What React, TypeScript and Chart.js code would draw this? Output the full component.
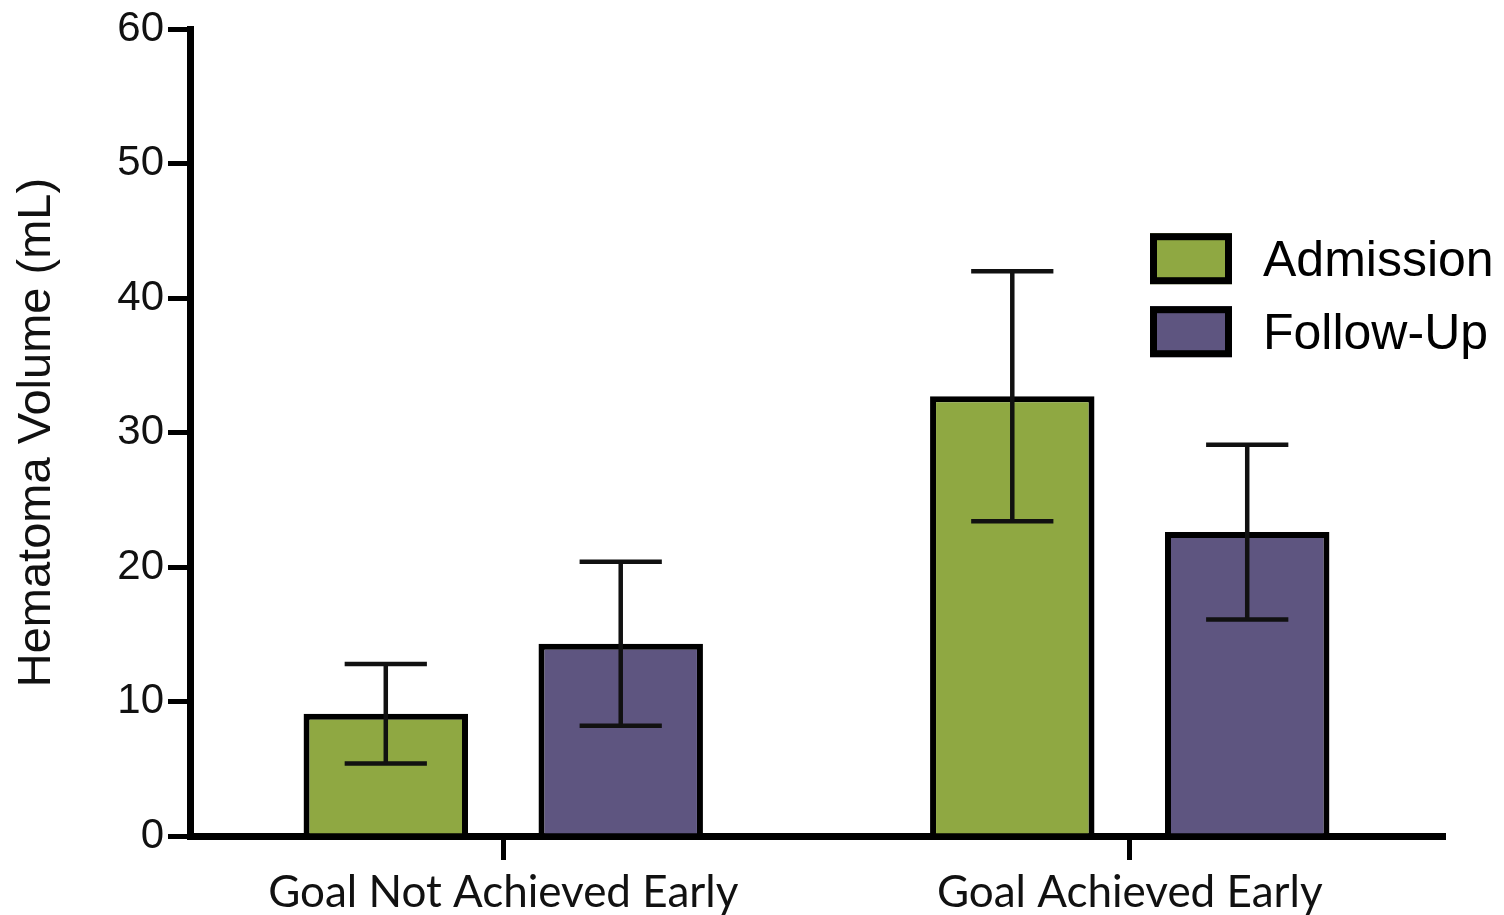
import React, { useEffect, useRef } from "react";
import { Chart, registerables } from "chart.js";

Chart.register(...registerables);

// Groups on the x axis
const categories = ["Goal Not Achieved Early", "Goal Achieved Early"];

// Mean hematoma volume (mL) per group
const admission = [9.1, 32.7];
const followUp = [14.3, 22.6];

// Error bar half-lengths (mL)
const admissionErr = [3.7, 9.3];
const followUpErr = [6.1, 6.5];

// Y axis range and tick step
const yMin = 0;
const yMax = 60;
const yStep = 10;

const seriesNames = ["Admission", "Follow-Up"];
const seriesColors = ["#8FA842", "#5E5580"];

const errorBarPlugin = {
  id: "errorBars",
  afterDatasetsDraw(chart: any) {
    const ctx = chart.ctx;
    const yScale = chart.scales.y;
    chart.data.datasets.forEach((ds: any, di: number) => {
      const meta = chart.getDatasetMeta(di);
      meta.data.forEach((bar: any, i: number) => {
        const v = ds.data[i];
        const e = ds.errors[i];
        const yTop = yScale.getPixelForValue(v + e);
        const yBot = yScale.getPixelForValue(v - e);
        const half = bar.width / 4;
        ctx.save();
        ctx.strokeStyle = "#111";
        ctx.lineWidth = 4.5;
        ctx.lineCap = "butt";
        ctx.beginPath();
        ctx.moveTo(bar.x, yTop);
        ctx.lineTo(bar.x, yBot);
        ctx.moveTo(bar.x - half, yTop);
        ctx.lineTo(bar.x + half, yTop);
        ctx.moveTo(bar.x - half, yBot);
        ctx.lineTo(bar.x + half, yBot);
        ctx.stroke();
        ctx.restore();
      });
    });
  },
};

const boxLegendPlugin = {
  id: "boxLegend",
  afterDraw(chart: any) {
    const ctx = chart.ctx;
    const area = chart.chartArea;
    const boxX = area.right - 293;
    const boxTop = area.top + 204;
    const boxW = 82;
    const boxH = 51;
    const rowGap = 73;
    const bw = 7;
    ctx.save();
    seriesNames.forEach((name, i) => {
      const y = boxTop + i * rowGap;
      ctx.fillStyle = seriesColors[i];
      ctx.fillRect(boxX, y, boxW, boxH);
      ctx.strokeStyle = "#000";
      ctx.lineWidth = bw;
      ctx.strokeRect(boxX + bw / 2, y + bw / 2, boxW - bw, boxH - bw);
      ctx.fillStyle = "#000";
      ctx.font = "50px 'Liberation Sans', Arial, sans-serif";
      ctx.textBaseline = "alphabetic";
      ctx.textAlign = "left";
      ctx.fillText(name, boxX + 113, y + 43);
    });
    ctx.restore();
  },
};

export default function App() {
  const canvasRef = useRef<HTMLCanvasElement | null>(null);

  useEffect(() => {
    if (!canvasRef.current) return;
    const chart = new Chart(canvasRef.current, {
      type: "bar",
      data: {
        labels: categories,
        datasets: [
          {
            label: seriesNames[0],
            data: admission,
            errors: admissionErr,
            backgroundColor: seriesColors[0],
            borderColor: "#000",
            borderWidth: 6,
            categoryPercentage: 0.75,
            barPercentage: 0.7,
          } as any,
          {
            label: seriesNames[1],
            data: followUp,
            errors: followUpErr,
            backgroundColor: seriesColors[1],
            borderColor: "#000",
            borderWidth: 6,
            categoryPercentage: 0.75,
            barPercentage: 0.7,
          } as any,
        ],
      },
      options: {
        responsive: false,
        animation: false,
        devicePixelRatio: 1,
        layout: { padding: { left: 0, top: 28, right: 61, bottom: 0 } },
        plugins: {
          legend: { display: false },
          tooltip: { enabled: false },
        },
        scales: {
          x: {
            type: "category",
            offset: true,
            z: 1,
            grid: {
              display: true,
              drawOnChartArea: false,
              drawTicks: true,
              tickLength: 24,
              lineWidth: 5,
              color: "#000",
              offset: false,
            },
            border: { display: true, width: 7, color: "#000" },
            ticks: {
              color: "#111",
              padding: 6,
              font: { family: "Lato, 'Open Sans', sans-serif", size: 44 },
              maxRotation: 0,
            },
            afterFit(scale: any) {
              scale.height = 79;
            },
          },
          y: {
            min: yMin,
            max: yMax,
            z: 1,
            grid: {
              display: true,
              drawOnChartArea: false,
              drawTicks: true,
              tickLength: 22,
              lineWidth: 5,
              color: "#000",
            },
            border: { display: true, width: 7, color: "#000" },
            ticks: {
              stepSize: yStep,
              color: "#111",
              padding: 4,
              font: { family: "'Liberation Sans', Arial, sans-serif", size: 42 },
            },
            title: {
              display: true,
              text: "Hematoma Volume (mL)",
              color: "#111",
              font: { family: "'Liberation Sans', Arial, sans-serif", size: 47 },
              padding: { top: 9, bottom: 0 },
            },
            afterFit(scale: any) {
              scale.width = 190;
            },
          },
        },
      },
      plugins: [errorBarPlugin, boxLegendPlugin],
    });
    return () => chart.destroy();
  }, []);

  return (
    <div style={{ position: "absolute", left: 0, top: 0, width: 1504, height: 915, background: "#fff" }}>
      <canvas ref={canvasRef} width={1504} height={915} />
    </div>
  );
}
